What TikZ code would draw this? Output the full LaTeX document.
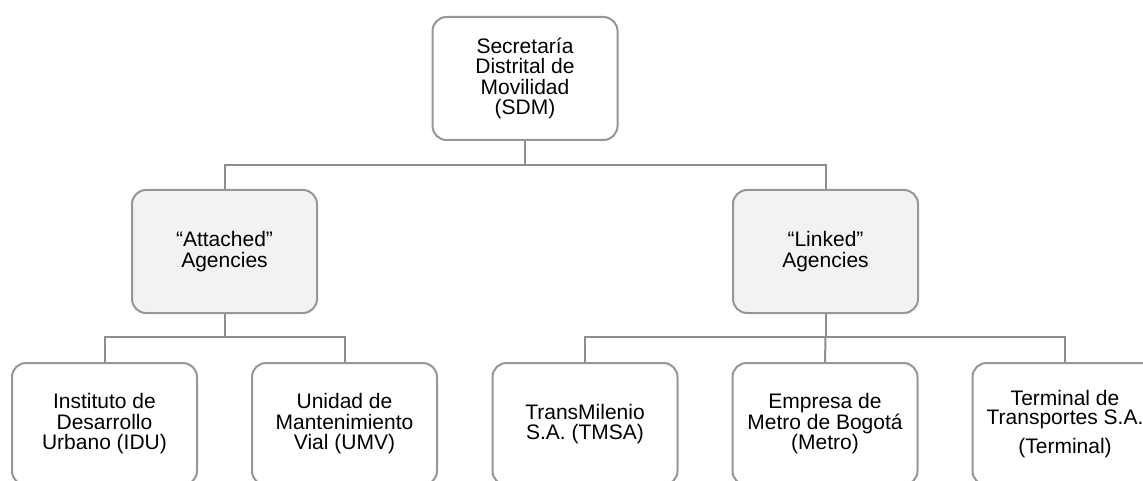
\documentclass[tikz,border=0pt]{standalone}
\usepackage{fontspec}
\setmainfont{Liberation Sans}
\definecolor{boxline}{HTML}{969696}
\definecolor{conline}{HTML}{8E8E8E}
\definecolor{agfill}{HTML}{F2F2F2}
\begin{document}
\begin{tikzpicture}[x=1pt,y=-1pt,
  orgbox/.style={draw=boxline, line width=2pt, rounded corners=14pt, fill=white,
    minimum width=185pt, align=center, inner sep=0pt,
    font=\fontsize{21}{20.5}\selectfont},
  agbox/.style={orgbox, fill=agfill},
  conn/.style={draw=conline, line width=2pt}]
\useasboundingbox (0,0) rectangle (1143,481);
\clip (0,0) rectangle (1143,481);
% top
\node[orgbox, minimum height=123pt] (sdm) at (525,78.5) {Secretaría\\Distrital de\\Movilidad\\(SDM)};
% agencies
\node[agbox, minimum height=123pt] (att) at (224.5,251.5) {“Attached”\\Agencies};
\node[agbox, minimum height=123pt] (lnk) at (825.5,251.5) {“Linked”\\Agencies};
% bottom row
\node[orgbox, minimum height=122pt] (idu) at (104.5,424) {Instituto de\\Desarrollo\\Urbano (IDU)};
\node[orgbox, minimum height=122pt] (umv) at (344.5,424) {Unidad de\\Mantenimiento\\Vial (UMV)};
\node[orgbox, minimum height=122pt] (tmsa) at (585,424) {TransMilenio\\S.A. (TMSA)};
\node[orgbox, minimum height=122pt] (metro) at (825,424) {Empresa de\\Metro de Bogotá\\(Metro)};
\node[orgbox, minimum height=122pt] (term) at (1065,424) {Terminal de\\[-1.5pt]Transportes S.A.\\[8.5pt](Terminal)};
% junctions
\coordinate (j0) at (525,165);
\coordinate (j1) at (224.5,337);
\coordinate (j2) at (825.5,337);
% connectors
\draw[conn] (sdm.south) -- (j0);
\draw[conn] (att.north) |- (j0) -| (lnk.north);
\draw[conn] (att.south) -- (j1);
\draw[conn] (idu.north) |- (j1) -| (umv.north);
\draw[conn] (lnk.south) -- (j2);
\draw[conn] (tmsa.north) |- (j2) -| (term.north);
\draw[conn] (j2) -- (metro.north);
\end{tikzpicture}
\end{document}
